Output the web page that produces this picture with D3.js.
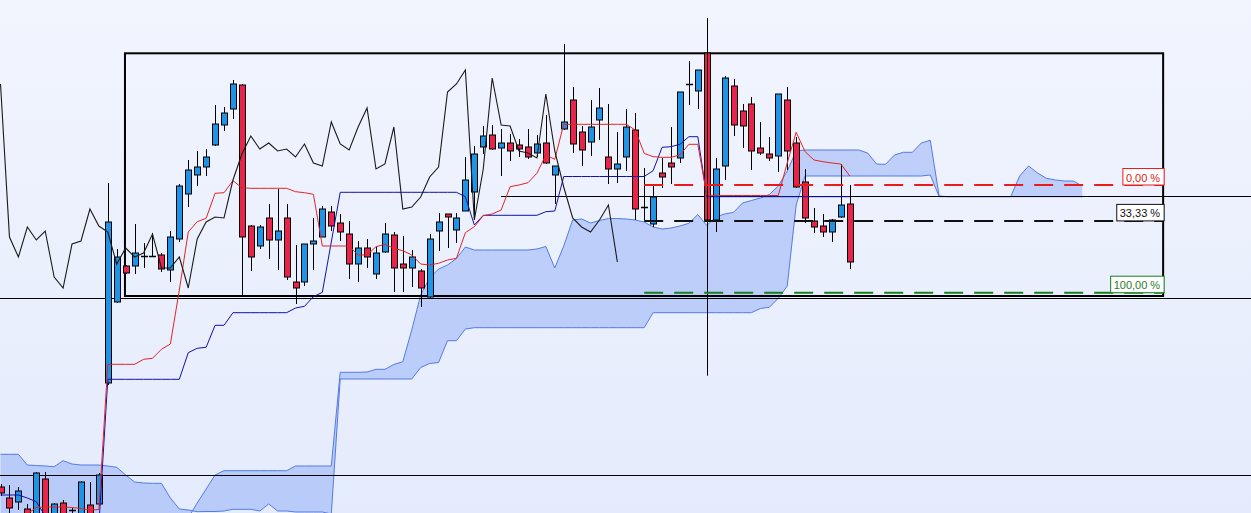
<!DOCTYPE html>
<html>
<head>
<meta charset="utf-8">
<script src="https://cdn.jsdelivr.net/npm/d3@7"></script>
<style>
  html, body { margin: 0; padding: 0; overflow: hidden; background: #eaf0fc; }
</style>
</head>
<body>
<div class="chart"></div>
<script>
// candle index of the first value in every per-bar array
const firstIndex = -12;

const opens = [513, 502, 498, 491, 480, 521, 480, 497, 491, 480, 495, 496,
  617, 698, 734, 734, 744, 744, 745, 730, 761, 806,
  825, 833, 855, 875, 891, 915, 774, 754, 782, 760,
  782, 718, 718, 756, 763, 788, 777, 766, 736, 752,
  726, 748, 765, 736, 732, 729, 703, 769, 786, 770,
  789, 808, 853, 865, 852, 857, 855, 853, 847, 857,
  825, 871, 900, 868, 858, 880, 843, 831, 843, 870,
  793, 776, 827, 837, 842, 916, 909, 947, 780, 834,
  914, 889, 896, 852, 846, 844, 900, 857, 818, 779,
  774, 768, 783, 796];
const highs = [516, 515, 513, 496, 528, 528, 497, 500, 492, 519, 518, 527,
  817, 751, 735, 776, 757, 767, 747, 769, 816, 840,
  849, 851, 895, 893, 920, 916, 775, 775, 796, 811,
  796, 755, 756, 782, 794, 794, 786, 779, 759, 761,
  754, 777, 768, 764, 750, 731, 766, 787, 786, 787,
  843, 854, 874, 875, 871, 866, 861, 871, 865, 885,
  834, 956, 913, 874, 900, 912, 896, 868, 891, 887,
  832, 814, 842, 873, 908, 939, 930, 947, 842, 924,
  921, 896, 903, 878, 863, 906, 913, 863, 831, 792,
  786, 781, 836, 815];
const lows = [504, 482, 490, 480, 478, 478, 478, 478, 480, 478, 478, 494,
  615, 697, 726, 726, 732, 743, 728, 718, 758, 793,
  814, 824, 854, 869, 881, 703, 729, 751, 741, 730,
  720, 696, 714, 730, 763, 769, 759, 721, 718, 732,
  721, 747, 708, 708, 713, 693, 702, 749, 752, 757,
  789, 783, 846, 850, 824, 839, 843, 841, 843, 836,
  796, 870, 847, 834, 844, 860, 816, 817, 829, 780,
  780, 773, 812, 816, 837, 895, 891, 780, 768, 820,
  864, 852, 830, 845, 839, 828, 830, 812, 777, 767,
  763, 758, 782, 731];
const closes = [507, 492, 509, 485, 527, 482, 496, 480, 490, 518, 482, 525,
  778, 743, 727, 747, 744, 744, 731, 763, 814, 830,
  833, 843, 876, 887, 916, 763, 743, 773, 760, 769,
  723, 712, 756, 759, 791, 774, 768, 736, 752, 743,
  747, 766, 732, 732, 743, 712, 761, 778, 783, 782,
  820, 846, 864, 851, 857, 849, 851, 843, 856, 837,
  834, 878, 856, 850, 873, 892, 831, 836, 873, 791,
  793, 803, 823, 833, 908, 916, 930, 780, 831, 922,
  875, 874, 849, 847, 842, 906, 849, 813, 782, 773,
  768, 780, 795, 738];

const tenkan = [480, 480, 482, 486, 492.5, 493, 493, 493, 492.5, 491.5, 490, 490.5,
  635.7, 635.7, 635.7, 635.7, 640.7, 641.7, 650.7, 656, 710, 768,
  778.3, 781.7, 806.7, 807.3, 819.3, 812.3, 811.7, 811.7, 811.7, 811.7,
  811.7, 808.3, 807.3, 805.7, 754, 754, 754, 754, 745, 745,
  753.3, 755.7, 751.7, 749.3, 745, 736, 735, 736.7, 740, 741.7,
  767.3, 773.3, 784.3, 786, 790, 813.3, 815, 817.3, 826.7, 845,
  840.7, 875.7, 875.7, 875.7, 875.7, 875.7, 875.7, 875.7, 875.7, 870,
  846.7, 843.3, 842.7, 842.7, 845, 855.7, 855.7, 805, 804.5, 804.5,
  804.5, 804.5, 804.5, 804.5, 804.5, 804.5, 837, 867.7, 848.3, 840,
  838.3, 837, 836, 824];
const kijun = [505, 505, 505, 502, 498.3, 484, 475, 475, 475, 475, 475, 475,
  620.7, 620.7, 620.7, 620.7, 620.7, 620.7, 620.7, 620.7, 620.7, 647.3,
  651.7, 652.7, 674.7, 674.7, 687.3, 687.3, 687.3, 687.3, 687.3, 687.3,
  687.3, 692, 693.7, 703.3, 707.7, 758, 807.7, 807.7, 807.7, 807.7,
  807.7, 807.7, 807.7, 807.7, 807.7, 807.7, 807.7, 807.7, 807.7, 807.7,
  803.3, 775, 784.7, 784.7, 784.7, 784.7, 784.7, 784.7, 784.7, 788.3,
  789, 823.5, 823.5, 823.5, 823.5, 823.5, 823.5, 823.5, 823.5, 823.5,
  823.5, 829.3, 852.7, 853.3, 855.7, 863.3, 863.3, 803.3, 803.3, 803.3,
  803.3, 803.3, 803.3, 803.3, 803.3, 803.3, 803.3, 803.3, 803.3, 803.3,
  803.3, 803.3, 803.3, 803.3];

// cloud spans, already shifted 26 bars forward (index -12 .. 109)
const spanA = [545.7, 545.7, 545.7, 535, 534.5, 534, 533.3, 539.3, 536, 535, 535, 535,
  534, 532.7, 525, 518, 517, 516.7, 516.7, 502, 491, 490,
  488.3, 488.5, 488.5, 489, 490.7, 490.7, 490.7, 489, 496, 489,
  489, 488, 488, 488, 488, 486, 621, 621, 621, 621,
  621, 621, 621, 621, 621, 632.5, 636.5, 637.5, 659.3, 659.3,
  671, 672.3, 672.3, 672.3, 672.3, 672.3, 672.3, 672.3, 672.3, 672.3,
  672.3, 672.3, 672.3, 672.3, 672.3, 672.3, 672.3, 672.3, 672.3, 672.3,
  672.3, 687.3, 687.3, 687.3, 687.3, 687.3, 687.3, 687.3, 687.3, 687.3,
  687.3, 687.3, 687.3, 691.5, 692.7, 701.7, 714, 795, 824, 824,
  824, 824, 824, 824, 824, 824, 824, 824, 824, 824,
  824, 824, 825, 803.3, 803.3, 803.3, 803.3, 803.3, 803.3, 803.3,
  803.3, 803.3, 803.3, 803.3, 803.3, 803.3, 803.3, 803.3, 803.3, 803.3];
const spanB = [480, 480, 480, 480, 480, 480, 480, 480, 480, 480, 480, 480,
  480, 480, 480, 480, 480, 480, 480, 480, 480, 482,
  497, 511, 525, 529.3, 529.3, 529.3, 529.3, 529.3, 529.3, 529.3,
  529.3, 534, 534, 534, 534, 534, 627.7, 627.7, 627.7, 628,
  630.7, 630.7, 635.5, 638.3, 670, 705, 722, 731, 735, 741.5,
  753, 750, 750, 750, 750, 750, 750, 750, 751, 753.5,
  732, 754, 780, 781, 777, 779.5, 781.5, 781.5, 781, 780,
  778, 773, 771, 772, 774, 776.7, 785.5, 774.5, 783, 786,
  787.7, 797, 799.5, 802, 805.5, 814, 829, 849, 850, 850,
  850, 850, 850, 850, 850, 847, 836, 835.7, 845, 847.7,
  847.7, 857, 859.7, 804, 803.3, 803.3, 803.3, 803.3, 803.3, 803.3,
  803.3, 803.3, 824, 834, 827, 821.7, 820, 819, 819, 814];

const fibLevels = [0, 33.33, 100];
const fibLabels = ["0,00 %", "33,33 %", "100,00 %"];
const fibHigh = 815;
const fibLow = 707.3;
const fibStart = 60;
// rectangle drawing: bar index / price anchors
const boxStart = 1.92, boxEnd = 118.05, boxTop = 946.7, boxBottom = 704;
const hLines = [702, 525];
const crossIndex = 67, crossPrice = 803.7, crossTop = 982, crossBottom = 624.3, crossFrom = 44;

const width = 1251;
const height = 513;

const xScale = d3.scaleLinear().domain([0, 83]).range([107.8, 849.8]);
const yScale = d3.scaleLinear().domain([487, 1000]).range([height, 0]);

const candles = opens.map((o, k) => ({
    i: k + firstIndex, o: o, h: highs[k], l: lows[k], c: closes[k]
}));

const svg = d3.select(".chart")
    .append("svg")
    .attr("width", width)
    .attr("height", height)
    .style("display", "block");

const grad = svg.append("defs").append("linearGradient")
    .attr("id", "bg").attr("x1", 0).attr("y1", 0).attr("x2", 0).attr("y2", 1);
grad.append("stop").attr("offset", "0%").attr("stop-color", "#f2f5fe");
grad.append("stop").attr("offset", "100%").attr("stop-color", "#e4ebfc");

svg.append("rect")
    .attr("width", width)
    .attr("height", height)
    .attr("fill", "url(#bg)");

// cloud
const cloud = spanA.map((a, k) => ({ i: k + firstIndex, a: a, b: spanB[k] }));

svg.append("path")
    .datum(cloud)
    .attr("d", d3.area().x(d => xScale(d.i)).y0(d => yScale(d.a)).y1(d => yScale(d.b)))
    .attr("fill", "rgb(120,155,245)")
    .attr("fill-opacity", 0.4);

["a", "b"].forEach(key => {
    svg.append("path")
        .datum(cloud)
        .attr("d", d3.line().x(d => xScale(d.i)).y(d => yScale(d[key])))
        .attr("fill", "none")
        .attr("stroke", "#557be2")
        .attr("stroke-width", 1);
});

// plain horizontal lines
svg.selectAll(".hline")
    .data(hLines)
    .enter()
    .append("line")
    .attr("class", "hline")
    .attr("x1", 0)
    .attr("x2", width)
    .attr("y1", d => Math.round(yScale(d)) + 0.5)
    .attr("y2", d => Math.round(yScale(d)) + 0.5)
    .attr("stroke", "#000")
    .attr("stroke-width", 1);

svg.append("line")
    .attr("x1", xScale(crossFrom))
    .attr("x2", width)
    .attr("y1", Math.round(yScale(crossPrice)) + 0.5)
    .attr("y2", Math.round(yScale(crossPrice)) + 0.5)
    .attr("stroke", "#000")
    .attr("stroke-width", 1);

// rectangle object
svg.append("rect")
    .attr("x", xScale(boxStart))
    .attr("y", yScale(boxTop))
    .attr("width", xScale(boxEnd) - xScale(boxStart))
    .attr("height", yScale(boxBottom) - yScale(boxTop))
    .attr("fill", "none")
    .attr("stroke", "#000")
    .attr("stroke-width", 2);

// candles
const bars = svg.append("g").attr("class", "candles");

bars.selectAll(".wick")
    .data(candles)
    .enter()
    .append("line")
    .attr("class", "wick")
    .attr("x1", d => Math.round(xScale(d.i)) + 0.5)
    .attr("x2", d => Math.round(xScale(d.i)) + 0.5)
    .attr("y1", d => yScale(d.h))
    .attr("y2", d => yScale(d.l))
    .attr("stroke", "#000")
    .attr("stroke-width", 1);

bars.selectAll(".body")
    .data(candles.filter(d => Math.abs(d.o - d.c) >= 1.5))
    .enter()
    .append("rect")
    .attr("class", "body")
    .attr("x", d => Math.round(xScale(d.i)) - 2.5)
    .attr("y", d => yScale(Math.max(d.o, d.c)))
    .attr("width", 6)
    .attr("height", d => Math.abs(yScale(d.o) - yScale(d.c)))
    .attr("fill", d => d.c > d.o ? "#1f93e6" : "#e8244c")
    .attr("stroke", "#000")
    .attr("stroke-width", 1);

bars.selectAll(".doji")
    .data(candles.filter(d => Math.abs(d.o - d.c) < 1.5))
    .enter()
    .append("line")
    .attr("class", "doji")
    .attr("x1", d => Math.round(xScale(d.i)) - 3)
    .attr("x2", d => Math.round(xScale(d.i)) + 4)
    .attr("y1", d => Math.round(yScale(d.c)) + 0.5)
    .attr("y2", d => Math.round(yScale(d.c)) + 0.5)
    .attr("stroke", "#000")
    .attr("stroke-width", 1.5);

// ichimoku lines
const lineGen = d3.line().x(d => xScale(d.i)).y(d => yScale(d.v));

svg.append("path")
    .datum(kijun.map((v, k) => ({ i: k + firstIndex, v: v })))
    .attr("d", lineGen)
    .attr("fill", "none")
    .attr("stroke", "#1212a8")
    .attr("stroke-width", 1);

svg.append("path")
    .datum(tenkan.map((v, k) => ({ i: k + firstIndex, v: v })))
    .attr("d", lineGen)
    .attr("fill", "none")
    .attr("stroke", "#e42424")
    .attr("stroke-width", 1);

// lagging line: closes drawn 26 bars back
const chikou = closes.slice(26).map((v, k) => ({ i: k + firstIndex, v: v }));

svg.append("path")
    .datum(chikou)
    .attr("d", lineGen)
    .attr("fill", "none")
    .attr("stroke", "#1a1a1a")
    .attr("stroke-width", 1.1);

// crosshair
svg.append("line")
    .attr("x1", Math.round(xScale(crossIndex)) + 0.5)
    .attr("x2", Math.round(xScale(crossIndex)) + 0.5)
    .attr("y1", yScale(crossTop))
    .attr("y2", yScale(crossBottom))
    .attr("stroke", "#000")
    .attr("stroke-width", 1);

// fibonacci levels
const fibColors = ["#e81c1c", "#111111", "#16801c"];
const textColors = ["#d81818", "#111111", "#2a7a2a"];
const fib = fibLevels.map((lv, k) => ({
    price: fibHigh - (fibHigh - fibLow) * lv / 100,
    label: fibLabels[k], color: fibColors[k], text: textColors[k]
}));

svg.selectAll(".fib")
    .data(fib)
    .enter()
    .append("line")
    .attr("class", "fib")
    .attr("x1", xScale(fibStart))
    .attr("x2", xScale(boxEnd))
    .attr("y1", d => yScale(d.price))
    .attr("y2", d => yScale(d.price))
    .attr("stroke", d => d.color)
    .attr("stroke-width", 2)
    .attr("stroke-dasharray", "19,11");

const labels = svg.selectAll(".fiblabel")
    .data(fib)
    .enter()
    .append("g")
    .attr("class", "fiblabel");

labels.append("rect");
labels.append("text")
    .text(d => d.label)
    .attr("font-family", "'Liberation Sans', Arial, sans-serif")
    .attr("font-size", "11px")
    .attr("fill", d => d.text)
    .attr("y", d => yScale(d.price) - 3.5);

labels.each(function(d) {
    const g = d3.select(this);
    const w = g.select("text").node().getComputedTextLength() + 7;
    const right = xScale(boxEnd) + 1;
    g.select("text").attr("x", right - w + 3);
    g.select("rect")
        .attr("x", right - w)
        .attr("y", yScale(d.price) - 16.5)
        .attr("width", w)
        .attr("height", 16.5)
        .attr("fill", "#fff")
        .attr("stroke", d.color)
        .attr("stroke-width", 1);
});
</script>
</body>
</html>
